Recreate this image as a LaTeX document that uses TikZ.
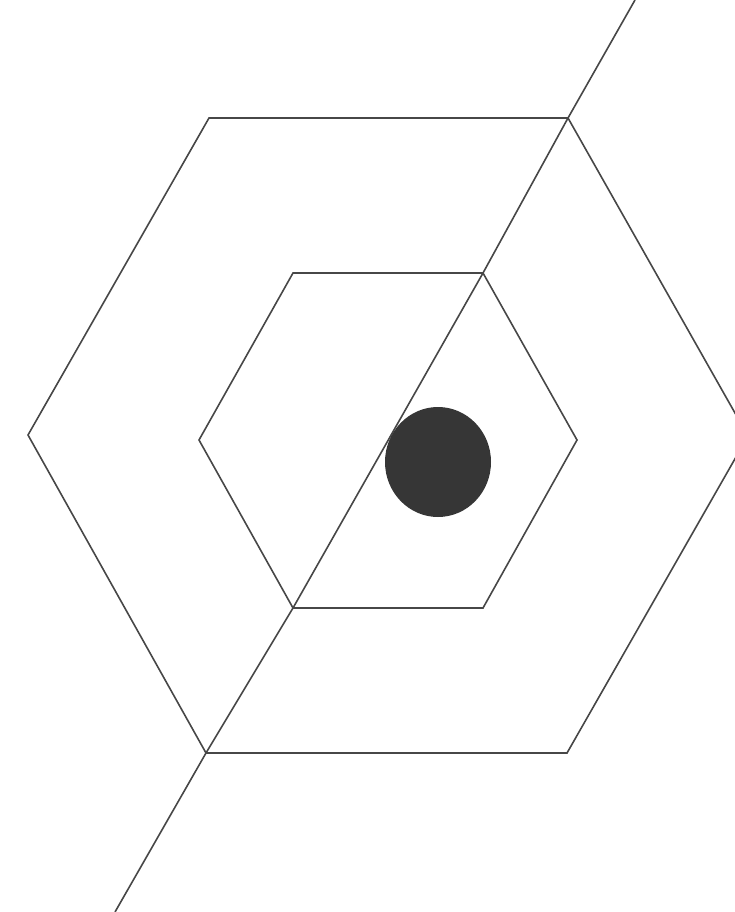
\documentclass[tikz,border=0pt]{standalone}
\usepackage{tikz}
\usetikzlibrary{calc}
\definecolor{HexInk}{HTML}{474747}
\definecolor{HexDot}{HTML}{363636}

\begin{document}
\begin{tikzpicture}[x=1pt,y=-1pt]
  \tikzset{
    edge/.style={draw=HexInk,line width=1.6pt,line join=miter},
    dot/.style={fill=HexDot,draw=none}
  }
  \useasboundingbox (0,0) rectangle (735,912);
  \clip (0,0) rectangle (735,912);
  % outer hexagon
  \coordinate (otl) at (209,118);
  \coordinate (otr) at (568,118);
  \coordinate (or)  at (748,436);
  \coordinate (obr) at (567,753);
  \coordinate (obl) at (206,753);
  \coordinate (ol)  at (28,435);
  % inner hexagon
  \coordinate (itl) at (293,273);
  \coordinate (itr) at (483,273);
  \coordinate (ir)  at (577,440);
  \coordinate (ibr) at (483,608);
  \coordinate (ibl) at (293,608);
  \coordinate (il)  at (199,440);
  % ends of the long diagonal
  \coordinate (top) at (635,0);
  \coordinate (bot) at (115,912);
  \draw[edge] (otl) -- (otr) -- (or) -- (obr) -- (obl) -- (ol) -- cycle;
  \draw[edge] (itl) -- (itr) -- (ir) -- (ibr) -- (ibl) -- (il) -- cycle;
  \draw[edge] (top) -- (otr) -- (itr) -- (ibl) -- (obl) -- (bot);
  \path[dot] (438,462) ellipse[x radius=53pt,y radius=55pt];
\end{tikzpicture}
\end{document}
